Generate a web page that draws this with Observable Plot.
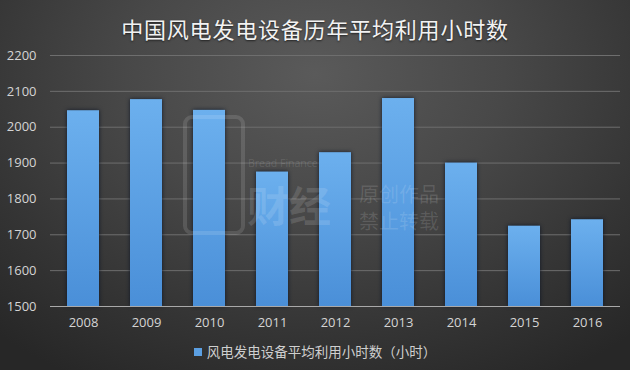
<!DOCTYPE html>
<html>
<head>
<meta charset="utf-8">
<script src="https://cdn.jsdelivr.net/npm/d3@7"></script>
<script src="https://cdn.jsdelivr.net/npm/@observablehq/plot@0.6"></script>
<style>
  html, body { margin: 0; padding: 0; }
  body { width: 630px; height: 370px; overflow: hidden; }
  #wrap {
    position: relative; width: 630px; height: 370px;
    background: radial-gradient(ellipse 75% 95% at 50% 20%, #5a5a5a 0%, #484848 40%, #343434 75%, #272727 100%);
    font-family: "Noto Sans CJK SC", "Noto Sans", sans-serif;
  }
  #title {
    position: absolute; left: 0; width: 630px; top: 13px; text-align: center;
    color: #f2f2f2; font-size: 22px; letter-spacing: 0.8px; line-height: 30px;
    text-shadow: 0 1px 2px rgba(0,0,0,0.6);
  }
  #chart { position: absolute; left: 0; top: 0; }
  #legend {
    position: absolute; left: 0; width: 630px; top: 341px; text-align: center;
    color: #cfcfcf; font-size: 13.5px; line-height: 20px;
  }
  #legend .sw { display: inline-block; width: 8px; height: 8px; background: #5b9fe2; margin-right: 5px; vertical-align: 1px; }
  .wm { position: absolute; color: rgba(255,255,255,0.13); white-space: nowrap; }
</style>
</head>
<body>
<div id="wrap">
  <div id="chart"></div>
  <div id="title">中国风电发电设备历年平均利用小时数</div>
  <div id="legend"><span class="sw"></span>风电发电设备平均利用小时数（小时）</div>
  <div class="wm" style="left:248px;top:156px;font-family:'Open Sans';font-size:10.5px;line-height:14px;">Bread Finance</div>
  <div class="wm" style="left:247px;top:182px;font-size:42px;font-weight:bold;line-height:44px;">财经</div>
  <div class="wm" style="left:359px;top:180px;font-size:20px;line-height:27px;">原创作品<br>禁止转载</div>
  <div class="wm" style="left:183px;top:115px;width:54px;height:112px;border:4px solid rgba(255,255,255,0.12);border-radius:9px;"></div>
</div>
<script>
const years = ["2008", "2009", "2010", "2011", "2012", "2013", "2014", "2015", "2016"];
const hours = [2046, 2077, 2047, 1875, 1929, 2080, 1900, 1724, 1742];
const yTicks = [1500, 1600, 1700, 1800, 1900, 2000, 2100, 2200];
const seriesName = "风电发电设备平均利用小时数（小时）";

const data = years.map((y, i) => ({year: y, value: hours[i]}));

const chart = Plot.plot({
  width: 630,
  height: 370,
  marginTop: 55,
  marginBottom: 64,
  marginLeft: 50,
  marginRight: 10,
  style: {background: "transparent", color: "#d4d4d4", fontFamily: "'Open Sans', 'Liberation Sans', sans-serif", fontSize: "13px"},
  x: {domain: years, paddingInner: 0.5, paddingOuter: 0.25, label: null},
  y: {domain: [1500, 2200], label: null},
  marks: [
    Plot.ruleY(yTicks.filter(d => d > 1500), {stroke: "#6e6e6e", strokeWidth: 1}),
    Plot.barY(data, {x: "year", y1: 1500, y2: "value", fill: "url(#barGrad)"}),
    Plot.ruleY([1500], {stroke: "#a9a9a9", strokeWidth: 1.2}),
    Plot.axisY({ticks: yTicks, tickFormat: d => String(d), tickSize: 0, tickPadding: 14, fill: "#d4d4d4"}),
    Plot.axisX({tickSize: 0, tickPadding: 11, fill: "#d4d4d4"})
  ]
});

const svg = d3.select(chart);
const defs = svg.insert("defs", ":first-child");
const g = defs.append("linearGradient").attr("id", "barGrad").attr("x1", 0).attr("x2", 0).attr("y1", 0).attr("y2", 1);
g.append("stop").attr("offset", "0%").attr("stop-color", "#6cb0ee");
g.append("stop").attr("offset", "100%").attr("stop-color", "#4a8fd8");
svg.selectAll("g[aria-label='bar']").style("filter", "drop-shadow(0px 0px 2px rgba(8,18,35,0.85))");

document.getElementById("chart").appendChild(chart);
</script>
</body>
</html>
